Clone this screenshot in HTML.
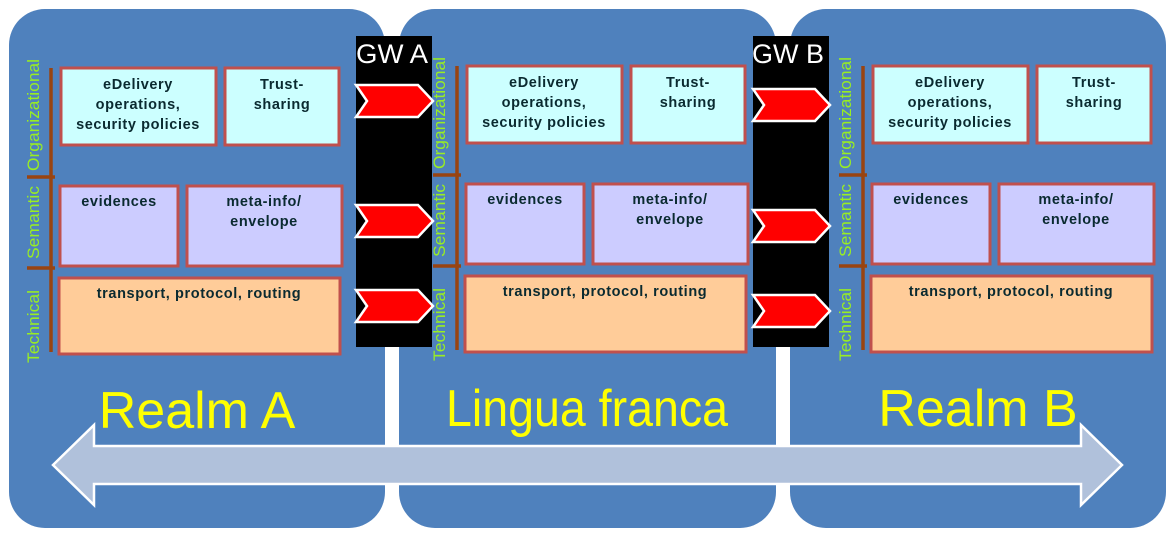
<!DOCTYPE html>
<html><head><meta charset="utf-8"><style>
html,body{margin:0;padding:0;background:#fff;width:1175px;height:537px;overflow:hidden}
svg{display:block}
.bt{font-family:"Liberation Sans",sans-serif;font-weight:bold;font-size:14.5px;letter-spacing:0.6px;fill:#0a2a30;text-anchor:middle}
.vl{font-family:"Liberation Sans",sans-serif;font-size:16.5px;fill:#99ee22}
.big{font-family:"Liberation Sans",sans-serif;font-size:52px;fill:#ffff00;text-anchor:middle}
.gw{font-family:"Liberation Sans",sans-serif;font-size:27px;fill:#fff}
</style></head><body>
<svg width="1175" height="537" viewBox="0 0 1175 537">
<defs>
<g id="chev"><polygon points="0,0 62,0 77,16 62,32 0,32 11,16" fill="#ff0000" stroke="#fff" stroke-width="2.5"/></g>
<g id="panel">
 <line x1="42" y1="68" x2="42" y2="352" stroke="#994411" stroke-width="3.5"/>
 <line x1="18" y1="177" x2="46" y2="177" stroke="#994411" stroke-width="3.5"/>
 <line x1="18" y1="268" x2="46" y2="268" stroke="#994411" stroke-width="3.5"/>
 <text class="vl" transform="translate(30,171) rotate(-90)" textLength="112" lengthAdjust="spacingAndGlyphs">Organizational</text>
 <text class="vl" transform="translate(30,259) rotate(-90)" textLength="73" lengthAdjust="spacingAndGlyphs">Semantic</text>
 <text class="vl" transform="translate(30,363) rotate(-90)" textLength="73" lengthAdjust="spacingAndGlyphs">Technical</text>
 <rect x="52" y="68" width="155" height="77" fill="#ccffff" stroke="#c0504d" stroke-width="3"/>
 <rect x="216" y="68" width="114" height="77" fill="#ccffff" stroke="#c0504d" stroke-width="3"/>
 <rect x="51" y="186" width="118" height="80" fill="#ccccff" stroke="#c0504d" stroke-width="3"/>
 <rect x="178" y="186" width="155" height="80" fill="#ccccff" stroke="#c0504d" stroke-width="3"/>
 <rect x="50" y="278" width="281" height="76" fill="#ffcc99" stroke="#c0504d" stroke-width="3"/>
 <text class="bt" x="129" y="89">eDelivery</text>
 <text class="bt" x="129" y="109">operations,</text>
 <text class="bt" x="129" y="129">security policies</text>
 <text class="bt" x="273" y="89">Trust-</text>
 <text class="bt" x="273" y="109">sharing</text>
 <text class="bt" x="110" y="206">evidences</text>
 <text class="bt" x="255" y="206">meta-info/</text>
 <text class="bt" x="255" y="226">envelope</text>
 <text class="bt" x="190" y="298">transport, protocol, routing</text>
</g>
</defs>
<rect x="9" y="9" width="376" height="519" rx="36" fill="#4f81bd"/>
<rect x="399" y="9" width="377" height="519" rx="36" fill="#4f81bd"/>
<rect x="790" y="9" width="376" height="519" rx="36" fill="#4f81bd"/>

<use href="#panel" transform="translate(9,0)"/>
<use href="#panel" transform="translate(415,-2)"/>
<use href="#panel" transform="translate(821,-2)"/>

<rect x="356" y="36" width="76" height="311" fill="#000"/>
<text class="gw" x="356" y="63" textLength="72" lengthAdjust="spacingAndGlyphs">GW A</text>
<use href="#chev" transform="translate(356,85)"/>
<use href="#chev" transform="translate(356,205)"/>
<use href="#chev" transform="translate(356,290)"/>

<rect x="753" y="36" width="76" height="311" fill="#000"/>
<text class="gw" x="752" y="63" textLength="72" lengthAdjust="spacingAndGlyphs">GW B</text>
<use href="#chev" transform="translate(753,89)"/>
<use href="#chev" transform="translate(753,210)"/>
<use href="#chev" transform="translate(753,295)"/>

<text class="big" x="197" y="428">Realm A</text>
<text class="big" x="587" y="426" textLength="282" lengthAdjust="spacingAndGlyphs">Lingua franca</text>
<text class="big" x="978" y="426">Realm B</text>

<polygon points="53,465 94,425 94,446 1081,446 1081,425 1122,465 1081,505 1081,484 94,484 94,505" fill="#b0c1db" stroke="#fff" stroke-width="2.5"/>
</svg>
</body></html>
